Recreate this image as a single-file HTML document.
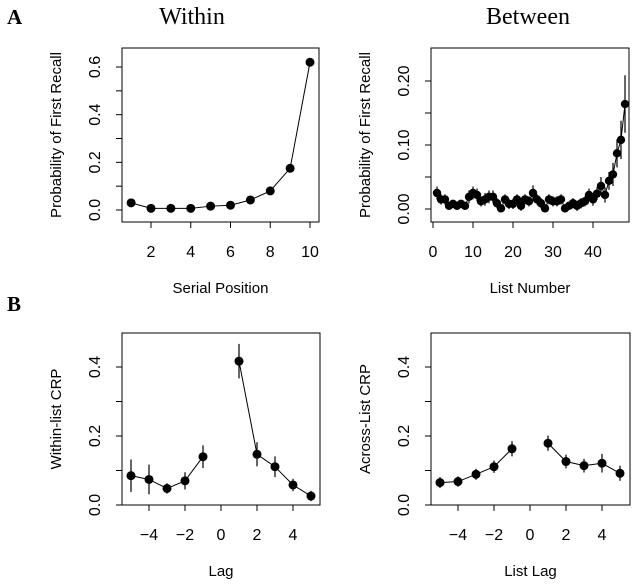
<!DOCTYPE html>
<html><head><meta charset="utf-8"><style>
html,body{margin:0;padding:0;background:#fff;}
svg{display:block;}
text{font-family:"Liberation Sans",sans-serif;fill:#000;}
.serif{font-family:"Liberation Serif",serif;}
</style></head><body>
<svg id="fig" width="637" height="587" viewBox="0 0 637 587">
<text class="serif" x="7" y="24" font-size="21" font-weight="bold">A</text>
<text class="serif" x="7" y="311" font-size="21" font-weight="bold">B</text>
<text class="serif" x="192" y="24" font-size="24" text-anchor="middle">Within</text>
<text class="serif" x="528" y="24" font-size="24" text-anchor="middle">Between</text>
</svg>
<script>
// Within panel data
const withinX = [1,2,3,4,5,6,7,8,9,10];
const withinY = [0.030,0.007,0.007,0.007,0.016,0.020,0.042,0.080,0.175,0.620];
const withinYTicks = ["0.0","0.2","0.4","0.6"];
const withinXTicks = [2,4,6,8,10];
// Between panel data
const betweenY = [0.025,0.015,0.015,0.005,0.008,0.005,0.008,0.005,0.019,0.025,0.022,0.012,0.015,0.019,0.019,0.009,0.001,0.015,0.008,0.008,0.015,0.005,0.015,0.012,0.025,0.015,0.009,0.001,0.015,0.012,0.012,0.015,0.001,0.005,0.009,0.005,0.009,0.012,0.022,0.015,0.024,0.036,0.022,0.044,0.054,0.087,0.108,0.164];
const betweenErr = [0.010,0.008,0.008,0.006,0.006,0.006,0.006,0.006,0.010,0.010,0.010,0.008,0.010,0.010,0.010,0.008,0.006,0.008,0.008,0.008,0.008,0.008,0.008,0.008,0.012,0.008,0.008,0.006,0.008,0.008,0.008,0.008,0.006,0.006,0.008,0.008,0.008,0.008,0.010,0.010,0.010,0.014,0.012,0.014,0.018,0.022,0.030,0.045];
const betweenYTicks = ["0.00","0.10","0.20"];
const betweenXTicks = [0,10,20,30,40];
// Lag CRP data
const lags = [-5,-4,-3,-2,-1,1,2,3,4,5];
const withinCrp = [0.085,0.074,0.048,0.070,0.140,0.417,0.147,0.111,0.058,0.026];
const withinCrpErr = [0.047,0.043,0.015,0.025,0.033,0.050,0.035,0.030,0.018,0.015];
const acrossCrp = [0.065,0.068,0.089,0.111,0.163,0.179,0.126,0.114,0.121,0.092];
const acrossCrpErr = [0.016,0.015,0.016,0.018,0.022,0.022,0.020,0.020,0.027,0.022];
const lagXTicks = [-4,-2,0,2,4];
const crpYTicks = ["0.0","0.2","0.4"];

const NS="http://www.w3.org/2000/svg";
const svg=document.getElementById('fig');
function mk(tag,attrs,parent){const e=document.createElementNS(NS,tag);for(const k in attrs)e.setAttribute(k,attrs[k]);(parent||svg).appendChild(e);return e;}

function panel(cfg){
  const g=mk('g',{});
  
  
  const sx=v=>cfg.x0+(v-cfg.xa)*cfg.xs;
  const sy=v=>cfg.y0-v*cfg.ys;
  const box=mk('rect',{x:cfg.L,y:cfg.T,width:cfg.R-cfg.L,height:cfg.B-cfg.T,fill:'none',stroke:'#000','stroke-width':1},g);
  
  
  // y ticks (labelled major + unlabelled half-step)
  const yv=cfg.yTicks.map(parseFloat);
  const step=(yv[1]-yv[0])/2;
  for(let k=0;k<=2*(yv.length-1)+ (cfg.extraTop||0);k++){
    const y=sy(yv[0]+k*step);
    if(y<cfg.T) break;
    mk('line',{x1:cfg.L-6,x2:cfg.L,y1:y,y2:y,stroke:'#000'},g);
  }
  cfg.yTicks.forEach(t=>{
    const y=sy(parseFloat(t));
    const tx=mk('text',{x:cfg.L-22,y:y,'font-size':16,'text-anchor':'middle',transform:`rotate(-90 ${cfg.L-22} ${y})`},g);
    tx.textContent=t;
    
    
  });
  cfg.xTicks.forEach(t=>{
    const x=sx(t);
    mk('line',{x1:x,x2:x,y1:cfg.B,y2:cfg.B+6,stroke:'#000'},g);
    const tx=mk('text',{x:x,y:cfg.B+35,'font-size':16,'text-anchor':'middle'},g);
    tx.textContent=String(t).replace('-','\u2212');
    
    
  });
  const xl=mk('text',{x:(cfg.L+cfg.R)/2,y:cfg.B+71,'font-size':15,'text-anchor':'middle'},g);
  xl.textContent=cfg.xLabel;
  
  
  const ylx=cfg.L-61, yly=(cfg.T+cfg.B)/2;
  const yl=mk('text',{x:ylx,y:yly,'font-size':15,'text-anchor':'middle',transform:`rotate(-90 ${ylx} ${yly})`},g);
  yl.textContent=cfg.yLabel;
  
  
  cfg.segments.forEach(seg=>{
    const pts=seg.map(i=>sx(cfg.xs_[i])+','+sy(cfg.ys_[i])).join(' ');
    const pl=mk('polyline',{points:pts,fill:'none',stroke:'#000','stroke-width':1},g);
    
    
  });
  cfg.xs_.forEach((xv,i)=>{
    const x=sx(xv), y=sy(cfg.ys_[i]);
    if(cfg.err){
      const e=cfg.err[i];
      const l=mk('line',{x1:x,x2:x,y1:sy(cfg.ys_[i]-e),y2:sy(cfg.ys_[i]+e),stroke:'#000','stroke-width':1.2},g);
      
      
    }
    const c=mk('circle',{cx:x,cy:y,r:cfg.r||4.5,fill:'#000'},g);
    
    
  });
}
const idx=n=>Array.from({length:n},(_,i)=>i);
panel({name:'within-panel',L:122,R:319,T:48,B:222,x0:151,xa:2,xs:19.875,y0:210,ys:238.3,
  yTicks:withinYTicks,xTicks:withinXTicks,xLabel:'Serial Position',yLabel:'Probability of First Recall',
  xs_:withinX,ys_:withinY,segments:[idx(withinX.length)]});
panel({name:'between-panel',L:431,R:629,T:48,B:222,x0:433,xa:0,xs:4,y0:209,ys:640,
  yTicks:betweenYTicks,xTicks:betweenXTicks,xLabel:'List Number',yLabel:'Probability of First Recall',
  xs_:betweenY.map((_,i)=>i+1),ys_:betweenY,err:betweenErr,segments:[idx(betweenY.length)],r:4.2});
panel({name:'within-crp-panel',L:122,R:320,T:333,B:505,x0:221,xa:0,xs:18,y0:505,ys:345,
  yTicks:crpYTicks,xTicks:lagXTicks,xLabel:'Lag',yLabel:'Within-list CRP',
  xs_:lags,ys_:withinCrp,err:withinCrpErr,segments:[[0,1,2,3,4],[5,6,7,8,9]]});
panel({name:'across-crp-panel',L:431,R:630,T:333,B:505,x0:530,xa:0,xs:18,y0:505,ys:345,
  yTicks:crpYTicks,xTicks:lagXTicks,xLabel:'List Lag',yLabel:'Across-List CRP',
  xs_:lags,ys_:acrossCrp,err:acrossCrpErr,segments:[[0,1,2,3,4],[5,6,7,8,9]]});
</script>
</body></html>
